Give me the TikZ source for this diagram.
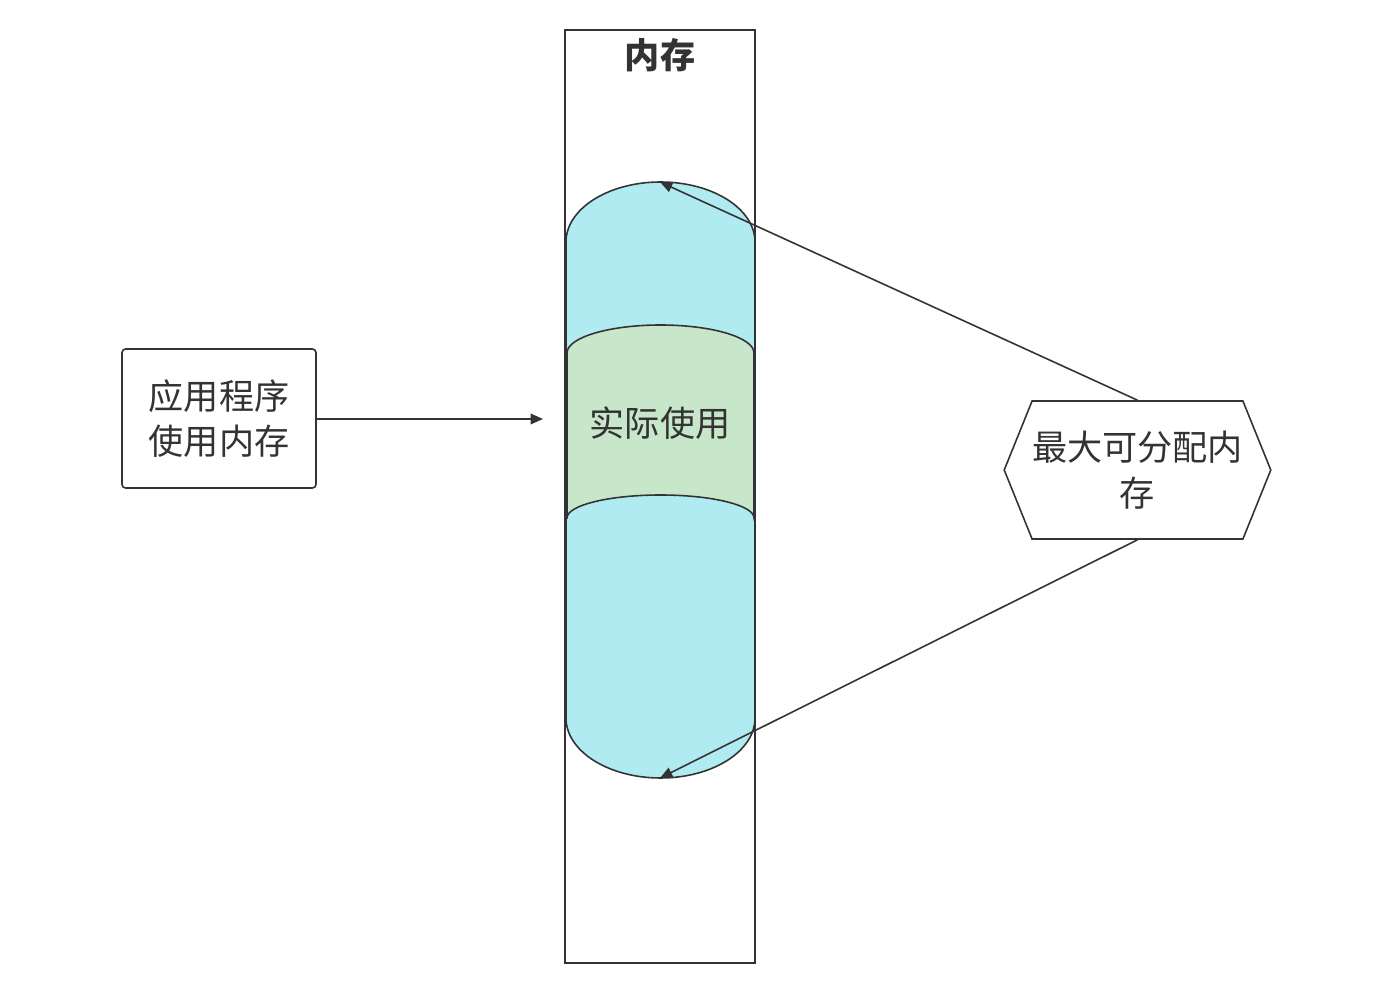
\documentclass[tikz,border=0pt]{standalone}
\usepackage{fontspec}
\setmainfont{Noto Sans CJK SC}
\usetikzlibrary{arrows.meta,shapes.symbols}
\definecolor{ink}{HTML}{333333}
\definecolor{poolcyan}{HTML}{B0EBF2}
\definecolor{usedgreen}{HTML}{C8E6CA}

\begin{document}
\begin{tikzpicture}[x=0.02cm, y=0.02cm, line width=0.9pt, draw=ink, text=ink,
  txt/.style={font=\fontsize{20}{26}\selectfont, align=center},
  link/.style={-{Triangle[length=7pt, width=6pt]}}]
  \useasboundingbox (0,0) rectangle (1377,988);

  % memory column
  \draw (565,25) rectangle (755,958);
  \node (title) at (660,933) [txt, font=\fontsize{20}{26}\selectfont\bfseries] {内存};

  % max allocatable pool
  \draw[fill=poolcyan] (566,270) -- (566,746)
    arc[start angle=180, end angle=0, x radius=94.5, y radius=60] -- (755,270)
    arc[start angle=0, end angle=-180, x radius=94.5, y radius=60] -- cycle;
  % actually used part
  \draw[fill=usedgreen] (567,470) -- (567,635)
    arc[start angle=180, end angle=0, x radius=93.5, y radius=28] -- (754,470)
    arc[start angle=0, end angle=180, x radius=93.5, y radius=23] -- cycle;
  \node (used) at (660,565) [txt] {实际使用};
  \coordinate (captop) at (660,806);
  \coordinate (capbot) at (660,210);

  \node (app) at (219,569.5) [txt, draw, rounded corners=2pt,
                              minimum width=3.88cm, minimum height=2.78cm]
                              {应用程序\\使用内存};
  \coordinate (append) at (543,569);

  \node (maxmem) at (1137.5,518) [txt, draw, signal, signal to=east and west,
                                  signal pointer angle=136, inner xsep=0pt,
                                  minimum height=2.76cm]
                                  {最大可分配内\\存};

  \draw[link] (app.east |- append) -- (append);
  \draw[link] (maxmem.north) -- (captop);
  \draw[link] (maxmem.south) -- (capbot);
\end{tikzpicture}
\end{document}
